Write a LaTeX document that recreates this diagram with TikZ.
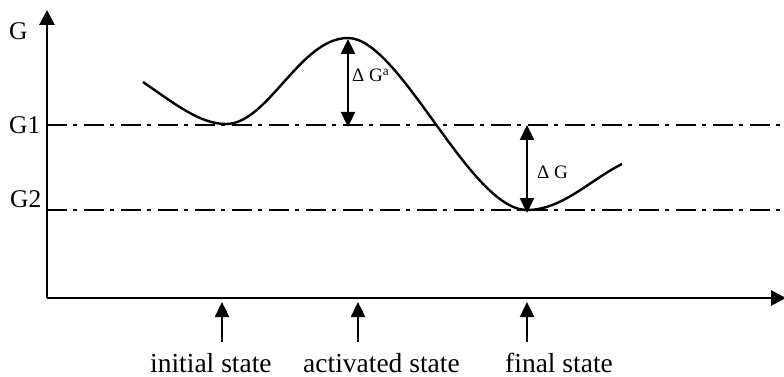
\documentclass[tikz,border=0pt]{standalone}
\usepackage{fontspec}
\setmainfont{Liberation Serif}
\usetikzlibrary{arrows.meta}
\begin{document}
\begin{tikzpicture}[x=1pt,y=-1pt,
  axis/.style={line width=2.8pt,-{Triangle[width=15pt,length=15pt]}},
  guide/.style={line width=2.2pt,dash pattern=on 20pt off 6pt on 4pt off 7pt},
  curvestyle/.style={line width=2.4pt},
  dbl/.style={line width=2.3pt,{Triangle[width=14pt,length=15pt]}-{Triangle[width=14pt,length=15pt]}},
  uparrow/.style={line width=2.4pt,-{Triangle[width=14pt,length=15pt]}},
  biglab/.style={font=\fontsize{27.5}{30}\selectfont, inner sep=0pt, anchor=base west},
  glab/.style={font=\fontsize{25.5}{28}\selectfont, inner sep=0pt, anchor=base west},
  smalllab/.style={font=\fontsize{19}{22}\selectfont, inner sep=0pt, anchor=base west}]
\useasboundingbox (0,0) rectangle (784,377);
% axes
\coordinate (O) at (47,298);
\coordinate (Ytop) at (47,10);
\coordinate (Xend) at (786,298);
\draw[axis] (O) -- (Ytop);
\draw[axis] (O) -- (Xend);
% guide lines
\coordinate (g1a) at (47,125); \coordinate (g1b) at (784,125);
\coordinate (g2a) at (47,210); \coordinate (g2b) at (784,210);
\draw[guide] (g1a) -- (g1b);
\draw[guide] (g2a) -- (g2b);
% axis labels
\node[glab] (G) at (9,40) {G};
\node[glab] (G1) at (9,133) {G1};
\node[glab] (G2) at (10,207) {G2};
% energy curve
\coordinate (c0) at (143,82);
\coordinate (c1) at (226,124);
\coordinate (c2) at (348,38);
\coordinate (c3) at (527,210);
\coordinate (c4) at (622,164);
\draw[curvestyle] (c0) .. controls (175,104) and (200,124) .. (c1)
  .. controls (268,124) and (300,38) .. (c2)
  .. controls (400,38) and (470,210) .. (c3)
  .. controls (562,210) and (590,180) .. (c4);
% delta arrows
\coordinate (a1) at (348,39); \coordinate (a2) at (348,127);
\draw[dbl] (a1) -- (a2);
\node[smalllab] (dGa) at (352,82) {Δ G\textsuperscript{a}};
\coordinate (b1) at (527,125); \coordinate (b2) at (527,213);
\draw[dbl] (b1) -- (b2);
\node[smalllab] (dG) at (537,178) {Δ G};
% state arrows
\coordinate (s1a) at (222,342); \coordinate (s1b) at (222,302);
\coordinate (s2a) at (358,342); \coordinate (s2b) at (358,302);
\coordinate (s3a) at (527,342); \coordinate (s3b) at (527,302);
\draw[uparrow] (s1a) -- (s1b);
\draw[uparrow] (s2a) -- (s2b);
\draw[uparrow] (s3a) -- (s3b);
\node[biglab] (init) at (150,372) {initial state};
\node[biglab] (act) at (303,372) {activated state};
\node[biglab] (fin) at (505,372) {final state};
\end{tikzpicture}
\end{document}
